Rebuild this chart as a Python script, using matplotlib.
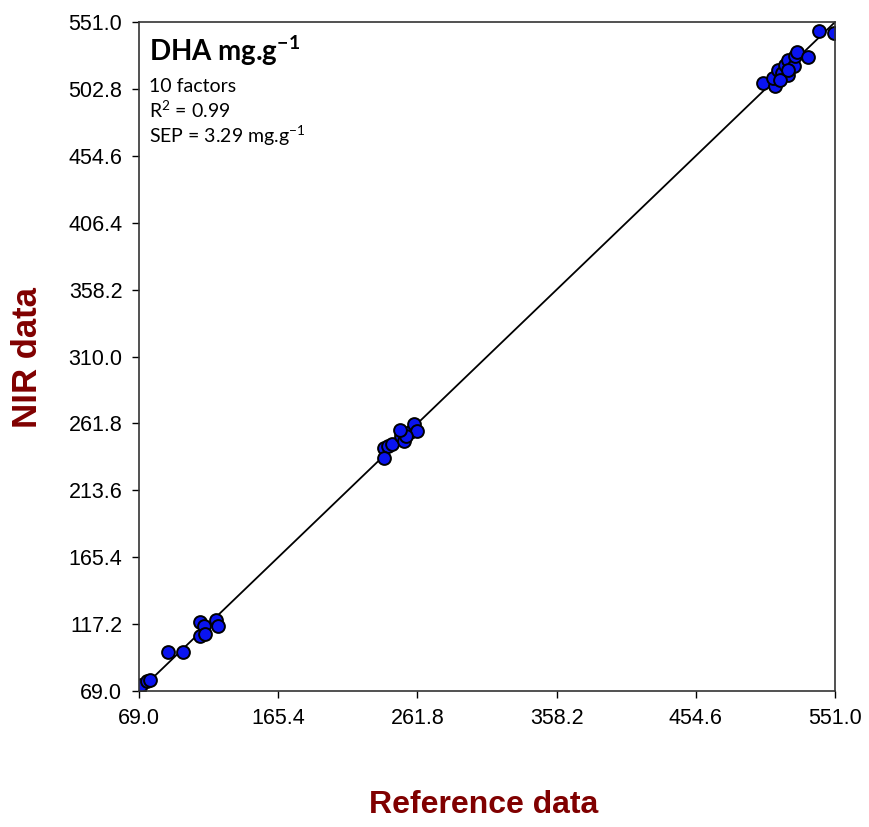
import numpy as np
import matplotlib
matplotlib.use("Agg")
import matplotlib.pyplot as plt

# reference vs NIR predicted values (mg/g)
ref_low = [69.0, 70.4, 74.5, 76.6, 89.1, 99.5, 111.2, 114.0, 111.2, 114.7, 122.3, 123.7]
nir_low = [68.3, 73.3, 76.2, 76.9, 97.1, 97.1, 118.7, 115.8, 108.6, 110.1, 120.2, 115.8]

ref_mid = [238.7, 241.4, 238.7, 244.2, 250.4, 252.5, 256.7, 259.4, 261.5, 253.9, 249.7]
nir_mid = [244.1, 245.5, 236.9, 247.0, 252.7, 249.1, 255.6, 261.4, 256.3, 252.7, 257.1]

ref_high = [501.1, 509.4, 508.0, 511.5, 514.3, 516.4, 518.4, 522.6, 523.3, 524.7,
            532.2, 539.7, 550.1, 518.4, 512.9, 518.3]
nir_high = [507.1, 504.9, 510.7, 516.4, 514.3, 520.0, 523.6, 519.3, 526.5, 529.4,
            525.8, 544.5, 543.1, 512.8, 509.2, 516.4]

ref = np.array(ref_low + ref_mid + ref_high)
nir = np.array(nir_low + nir_mid + nir_high)

lo, hi = 69.0, 551.0
ticks = [69.0, 117.2, 165.4, 213.6, 261.8, 310.0, 358.2, 406.4, 454.6, 502.8, 551.0]
xticks = ticks[::2]

label_font = ['Liberation Sans Narrow', 'Liberation Sans', 'DejaVu Sans']
note_font = ['Lato', 'DejaVu Sans']

# superscripts in the annotation drawn with Lato via mathtext
plt.rcParams['mathtext.fontset'] = 'custom'
plt.rcParams['mathtext.rm'] = 'Lato'
plt.rcParams['mathtext.it'] = 'Lato:italic'
plt.rcParams['mathtext.bf'] = 'Lato:bold'
plt.rcParams['mathtext.default'] = 'regular'

fig = plt.figure(figsize=(8.69, 8.27), dpi=100)
ax = fig.add_axes([0.16, 0.1644, 0.801, 0.809])

ax.plot([lo, hi], [lo, hi], color='black', lw=1.3, zorder=1)
ax.scatter(ref, nir, s=85, color='#0a14f0', edgecolor='black', linewidth=1.4, zorder=2)

ax.set_xlim(lo, hi)
ax.set_ylim(lo, hi)
ax.set_xticks(xticks)
ax.set_yticks(ticks)
ax.set_xticklabels([f'{t:.1f}' for t in xticks], family=label_font, fontsize=15.5)
ax.set_yticklabels([f'{t:.1f}' for t in ticks], family=label_font, fontsize=15.5)
ax.tick_params(direction='out', length=5, width=1, pad=7)
for s in ax.spines.values():
    s.set_linewidth(1.2)
    s.set_color('#333333')

fig.text(0.032, 0.568, 'NIR data', rotation=90, ha='center', va='center',
         color='#800000', fontsize=25, fontweight='bold', family=label_font)
fig.text(0.556, 0.027, 'Reference data', ha='center', va='center',
         color='#800000', fontsize=23, fontweight='bold', family=label_font)

ax.text(0.014, 0.9417, r'DHA mg.g$^{\mathbf{-1}}$', transform=ax.transAxes, ha='left',
        va='baseline', fontsize=20, fontweight='bold', family=note_font)
ax.text(0.014, 0.8954, '10 factors', transform=ax.transAxes, ha='left', va='baseline',
        fontsize=14, family=note_font)
ax.text(0.014, 0.8565, r'R$^{2}$ = 0.99', transform=ax.transAxes, ha='left', va='baseline',
        fontsize=14, family=note_font)
ax.text(0.014, 0.8191, r'SEP = 3.29 mg.g$^{-1}$', transform=ax.transAxes, ha='left',
        va='baseline', fontsize=14, family=note_font)

plt.savefig('out.png', dpi=100)
plt.close()
